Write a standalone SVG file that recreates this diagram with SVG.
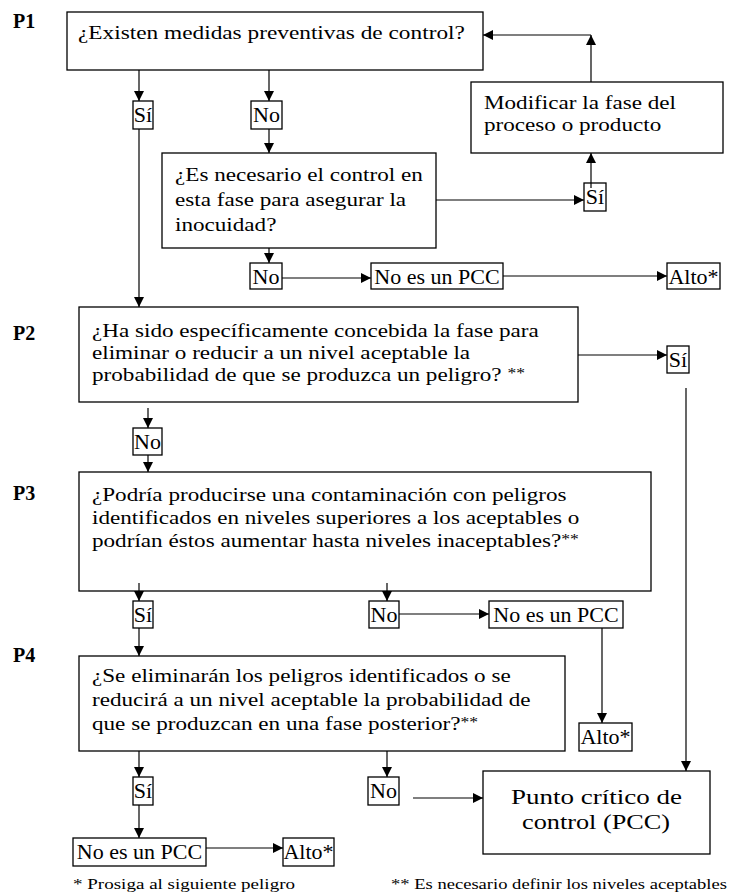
<svg xmlns="http://www.w3.org/2000/svg" width="729" height="895" viewBox="0 0 729 895" font-family="'Liberation Serif', 'Times New Roman', 'DejaVu Serif', serif">
<defs>
<marker id="ah" viewBox="0 0 10 10" refX="10" refY="5" markerWidth="10" markerHeight="11" markerUnits="userSpaceOnUse" orient="auto"><path d="M0,0 L10,5 L0,10 z" fill="#000"/></marker>
</defs>
<style>
.box{fill:#fff;stroke:#000;stroke-width:1.3}
text{font-family:'Liberation Serif','Times New Roman','DejaVu Serif',serif;fill:#000}
.q{font-size:18.5px}
.sm{font-size:14px}
.lbl{font-size:22px;text-anchor:middle}
.p{font-size:20px;font-weight:bold}
.c{stroke:#000;stroke-width:1.2;fill:none;marker-end:url(#ah)}
.fn{font-size:15px}
.pcc{font-size:22px}
</style>
<rect width="729" height="895" fill="#fff"/>

<g id="labels-p">
<text class="p" x="13" y="28">P1</text>
<text class="p" x="13" y="340">P2</text>
<text class="p" x="13" y="500">P3</text>
<text class="p" x="13" y="662">P4</text>
</g>

<g id="q1">
<rect class="box" x="67" y="12" width="416" height="58"/>
<text class="q" transform="matrix(1.26 0 0 1 78 39)">¿Existen medidas preventivas de control?</text>
</g>
<g id="q1-si"><rect class="box" x="133" y="101" width="20" height="28"/><text class="lbl" x="143" y="122">Sí</text></g>
<g id="q1-no"><rect class="box" x="251" y="101" width="31" height="28"/><text class="lbl" x="266.5" y="122">No</text></g>

<g id="q1b">
<rect class="box" x="162" y="153" width="274" height="95"/>
<text class="q" transform="matrix(1.25 0 0 1 175 181)"><tspan x="0" y="0">¿Es necesario el control en</tspan><tspan x="0" y="25">esta fase para asegurar la</tspan><tspan x="0" y="50">inocuidad?</tspan></text>
</g>
<g id="q1b-si"><rect class="box" x="584" y="183" width="22" height="28"/><text class="lbl" x="595" y="204">Sí</text></g>
<g id="modificar">
<rect class="box" x="471" y="82" width="252" height="71"/>
<text class="q" transform="matrix(1.25 0 0 1 484 109)"><tspan x="0" y="0">Modificar la fase del</tspan><tspan x="0" y="22">proceso o producto</tspan></text>
</g>
<g id="q1b-no"><rect class="box" x="250" y="263" width="32" height="26"/><text class="lbl" x="266" y="284">No</text></g>
<g id="nopcc1"><rect class="box" x="371" y="263" width="132" height="26"/><text class="lbl" x="437" y="284">No es un PCC</text></g>
<g id="alto1"><rect class="box" x="667" y="263" width="53" height="26"/><text class="lbl" x="693.5" y="284">Alto*</text></g>

<g id="q2">
<rect class="box" x="79" y="307" width="499" height="95"/>
<text class="q" transform="matrix(1.25 0 0 1 92 337)"><tspan x="0" y="0">¿Ha sido específicamente concebida la fase para</tspan><tspan x="0" y="22">eliminar o reducir a un nivel aceptable la</tspan><tspan x="0" y="44">probabilidad de que se produzca un peligro? <tspan class="sm" dy="-3">**</tspan></tspan></text>
</g>
<g id="q2-si"><rect class="box" x="667" y="346" width="22" height="27"/><text class="lbl" x="678" y="367">Sí</text></g>
<g id="q2-no"><rect class="box" x="133" y="428" width="29" height="27"/><text class="lbl" x="147.5" y="449">No</text></g>

<g id="q3">
<rect class="box" x="79" y="472" width="572" height="119"/>
<text class="q" transform="matrix(1.25 0 0 1 92 501)"><tspan x="0" y="0">¿Podría producirse una contaminación con peligros</tspan><tspan x="0" y="23">identificados en niveles superiores a los aceptables o</tspan><tspan x="0" y="46">podrían éstos aumentar hasta niveles inaceptables?<tspan class="sm" dy="-3">**</tspan></tspan></text>
</g>
<g id="q3-si"><rect class="box" x="133" y="601" width="20" height="27"/><text class="lbl" x="143" y="622">Sí</text></g>
<g id="q3-no"><rect class="box" x="369" y="601" width="30" height="27"/><text class="lbl" x="384" y="622">No</text></g>
<g id="nopcc2"><rect class="box" x="489" y="601" width="134" height="27"/><text class="lbl" x="556" y="622">No es un PCC</text></g>
<g id="alto2"><rect class="box" x="579" y="723" width="53" height="28"/><text class="lbl" x="605.5" y="744">Alto*</text></g>

<g id="q4">
<rect class="box" x="79" y="656" width="486" height="95"/>
<text class="q" transform="matrix(1.25 0 0 1 92 682)"><tspan x="0" y="0">¿Se eliminarán los peligros identificados o se</tspan><tspan x="0" y="24">reducirá a un nivel aceptable la probabilidad de</tspan><tspan x="0" y="48">que se produzcan en una fase posterior?<tspan class="sm" dy="-3">**</tspan></tspan></text>
</g>
<g id="q4-si"><rect class="box" x="133" y="777" width="20" height="28"/><text class="lbl" x="143" y="798">Sí</text></g>
<g id="q4-no"><rect class="box" x="368" y="777" width="31" height="28"/><text class="lbl" x="383.5" y="798">No</text></g>
<g id="nopcc3"><rect class="box" x="73" y="838" width="133" height="28"/><text class="lbl" x="139.5" y="859">No es un PCC</text></g>
<g id="alto3"><rect class="box" x="283" y="838" width="51" height="28"/><text class="lbl" x="308.5" y="859">Alto*</text></g>

<g id="pcc">
<rect class="box" x="483" y="771" width="227" height="83"/>
<text class="pcc" x="511" y="804" textLength="171" lengthAdjust="spacingAndGlyphs">Punto crítico de</text>
<text class="pcc" x="522" y="829" textLength="148" lengthAdjust="spacingAndGlyphs">control (PCC)</text>
</g>

<g id="notes">
<text class="fn" x="73" y="889" textLength="222" lengthAdjust="spacingAndGlyphs">* Prosiga al siguiente peligro</text>
<text class="fn" x="391" y="889" textLength="336" lengthAdjust="spacingAndGlyphs">** Es necesario definir los niveles aceptables</text>
</g>

<g id="connectors">
<path class="c" d="M139,70 V101"/>
<path class="c" d="M269,70 V101"/>
<path class="c" d="M139,129 V307"/>
<path class="c" d="M269,129 V153"/>
<path class="c" d="M436,200 H584"/>
<path class="c" d="M591,188 V153"/>
<path class="c" d="M591,82 V35"/>
<path class="c" d="M591,35 H483"/>
<path class="c" d="M269,248 V263"/>
<path class="c" d="M282,278 H371"/>
<path class="c" d="M503,276 H667"/>
<path class="c" d="M578,355 H667"/>
<path class="c" d="M686,388 V771"/>
<path class="c" d="M148,408 V428"/>
<path class="c" d="M148,455 V472"/>
<path class="c" d="M139,583 V601"/>
<path class="c" d="M139,628 V656"/>
<path class="c" d="M387,583 V601"/>
<path class="c" d="M399,614 H489"/>
<path class="c" d="M602,628 V723"/>
<path class="c" d="M139,751 V777"/>
<path class="c" d="M139,805 V838"/>
<path class="c" d="M206,848 H283"/>
<path class="c" d="M387,751 V777"/>
<path class="c" d="M413,798 H483"/>
</g>
</svg>
